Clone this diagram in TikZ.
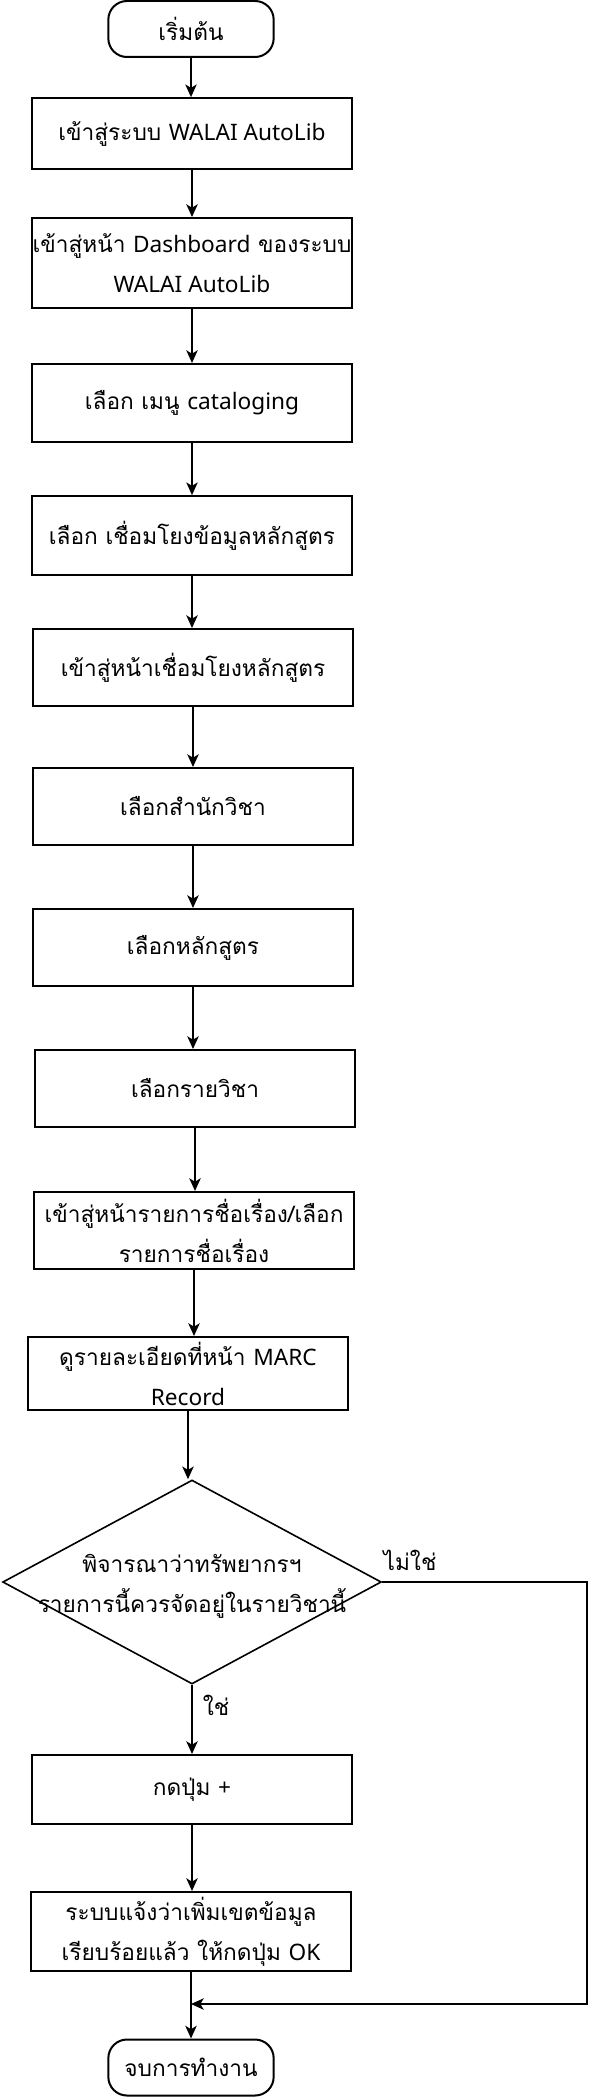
\documentclass[tikz,border=0pt]{standalone}
\usepackage{fontspec}
\setmainfont[Script=Thai]{Loma}
\newfontfamily\enfont{Noto Sans}
\newcommand{\entxt}[1]{{\enfont #1}}
\usepackage{tikz}
\usetikzlibrary{shapes.geometric, arrows.meta, positioning, calc}

\begin{document}
\begin{tikzpicture}[x=0.75pt, y=-0.75pt, font=\fontsize{17}{30}\selectfont,
  stepbox/.style={draw, line width=1.5pt, minimum width=240pt, align=center, inner sep=0pt},
  term/.style={draw, line width=1.5pt, rounded corners=14pt, minimum width=124pt, minimum height=42pt},
  decision/.style={draw, diamond, line width=1.2pt, minimum width=284pt, minimum height=153pt, inner sep=0pt},
  arr/.style={-{Stealth[length=9.5pt, width=8.5pt, inset=2.5pt]}, line width=1.4pt}]
\useasboundingbox (0,0) rectangle (596,2098);

\node[term] (start) at (191,29) {เริ่มต้น};
\node[stepbox, minimum height=53pt] (login) at (192,133.5) {เข้าสู่ระบบ \entxt{WALAI AutoLib}};
\node[stepbox, minimum height=67.5pt] (dash) at (192,263) {เข้าสู่หน้า \entxt{Dashboard} ของระบบ\\\entxt{WALAI AutoLib}};
\node[stepbox, minimum height=58.5pt] (menu) at (192,403) {เลือก เมนู \entxt{cataloging}};
\node[stepbox, minimum height=59pt] (linkdata) at (192,535.5) {เลือก เชื่อมโยงข้อมูลหลักสูตร};
\node[stepbox, minimum height=57.75pt] (linkpage) at (193,667.5) {เข้าสู่หน้าเชื่อมโยงหลักสูตร};
\node[stepbox, minimum height=57.75pt] (school) at (193,806.5) {เลือกสำนักวิชา};
\node[stepbox, minimum height=57.75pt] (program) at (193,947.5) {เลือกหลักสูตร};
\node[stepbox, minimum height=57.75pt] (course) at (195,1088.5) {เลือกรายวิชา};
\node[stepbox, minimum height=57.75pt] (titles) at (194,1230.5) {เข้าสู่หน้ารายการชื่อเรื่อง/เลือก\\รายการชื่อเรื่อง};
\node[stepbox, minimum height=54.75pt] (marc) at (188,1373.5) {ดูรายละเอียดที่หน้า \entxt{MARC}\\\entxt{Record}};
\node[decision] (decide) at (192,1582) {};
\node[align=center] (decidetxt) at (192,1586) {พิจารณาว่าทรัพยากรฯ\\รายการนี้ควรจัดอยู่ในรายวิชานี้};
\node[stepbox, minimum height=51.75pt] (plus) at (192,1789.5) {กดปุ่ม \entxt{+}};
\node[stepbox, minimum height=59.25pt] (notify) at (191,1931.5) {ระบบแจ้งว่าเพิ่มเขตข้อมูล\\เรียบร้อยแล้ว ให้กดปุ่ม \entxt{OK}};
\node[term] (finish) at (191,2067.5) {จบการทำงาน};

\node (nolbl) at (410,1560) {ไม่ใช่};
\node (yeslbl) at (216,1705) {ใช่};
\coordinate (merge) at (191,2004);
\coordinate (rgt) at (587,2004);

% main chain
\foreach \a/\b in {start/login, login/dash, dash/menu, menu/linkdata, linkdata/linkpage,
  linkpage/school, school/program, program/course, course/titles, titles/marc,
  marc/decide, decide/plus, plus/notify, notify/finish}
  \draw[arr] (\a) -- (\a |- \b.north);

% no branch
\draw[arr] (decide.east) -| (rgt) -- (merge);
\end{tikzpicture}
\end{document}
